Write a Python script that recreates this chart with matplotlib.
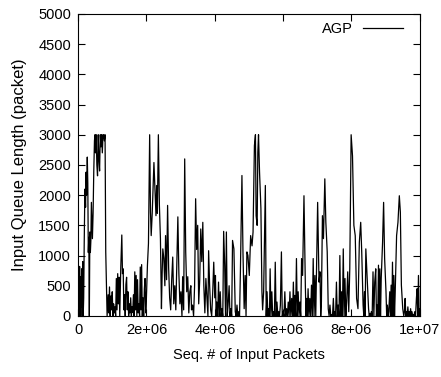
import matplotlib
matplotlib.use('Agg')
import matplotlib.pyplot as plt

plt.rcParams['font.family'] = ['Liberation Sans', 'DejaVu Sans']

# sequence number of input packet (units of 1e5) and queue length (packets)
seq_1 = [0.0, 0.15, 0.3, 0.45, 0.6, 0.75, 0.9, 1.05, 1.2, 1.35, 1.5, 1.65, 1.8,
         2.0, 2.2, 2.35, 2.5, 2.7, 2.85, 3.0, 3.15, 3.3, 3.45, 3.6, 3.75, 3.9,
         4.05, 4.2, 4.4, 4.6, 4.8, 4.95, 5.1, 5.3, 5.5, 5.7, 5.9, 6.1, 6.3, 6.5,
         6.7, 6.9, 7.1, 7.3, 7.5, 7.7, 7.9, 8.1, 8.3, 8.5]
qlen_1 = [0, 500, 80, 820, 0, 650, 150, 780, 0, 900, 0, 300, 1200,
          2100, 1800, 2380, 2000, 2630, 2200, 1050, 1300, 0, 1390, 1050, 1250, 1880,
          1600, 1280, 1700, 2400, 2900, 3000, 2700, 3000, 2500, 2320, 3000, 2600, 2400, 3000,
          2800, 3000, 2700, 3000, 3000, 2900, 3000, 1060, 500, 0]

seq_2 = [8.8, 9.0, 9.2, 9.4, 9.6, 9.8, 10.0, 10.2, 10.4, 10.6, 10.8, 11.0, 11.2,
         11.4, 11.6, 11.8, 12.0, 12.2, 12.5, 12.8, 13.0, 13.2, 13.4, 13.6, 13.8,
         14.0, 14.2, 14.4, 14.6, 14.8, 15.0, 15.2, 15.4, 15.6, 15.8, 16.0, 16.2,
         16.4, 16.6, 16.8, 17.0, 17.2, 17.4, 17.6, 17.8, 18.0, 18.2, 18.4, 18.6,
         18.8, 19.0, 19.2, 19.4, 19.6, 19.8, 20.0, 20.3, 20.6]
qlen_2 = [350, 50, 480, 0, 330, 100, 400, 0, 200, 50, 150, 0, 620,
          100, 700, 200, 640, 0, 800, 1340, 700, 780, 100, 350, 0,
          520, 640, 100, 400, 0, 200, 50, 300, 0, 150, 60, 350,
          0, 730, 100, 670, 0, 600, 50, 200, 0, 810, 100, 850,
          0, 300, 0, 450, 620, 50, 300, 840, 1200]

seq_3 = [20.95, 21.2, 21.4, 21.7, 22.2, 22.5, 22.8, 23.0, 23.2, 23.5, 23.8, 24.1,
         24.4, 24.6, 24.8, 25.1, 25.4, 25.6, 25.9, 26.2, 26.5, 26.8, 27.1, 27.4,
         27.7, 28.0, 28.3, 28.6, 28.9, 29.2, 29.5, 29.8, 30.1, 30.4, 30.6, 30.9,
         31.2, 31.5, 31.8, 32.1, 32.4, 32.7, 33.0, 33.2, 33.5, 33.8, 34.1, 34.4,
         34.7, 35.0, 35.3, 35.6, 35.9, 36.2, 36.5, 36.8, 37.1, 37.4, 37.7, 38.0,
         38.2, 38.5, 38.8, 39.1, 39.4, 39.7, 40.0, 40.2, 40.4, 40.6, 40.85, 41.1,
         41.35, 41.6, 41.85, 42.1, 42.35, 42.6, 42.9, 43.15, 43.4, 43.65, 43.9,
         44.2, 44.45, 44.7, 44.95, 45.2, 45.6, 46.0, 46.25, 46.5, 46.75, 47.0,
         47.25, 47.5, 47.95]
qlen_3 = [3000, 1720, 1330, 1700, 2540, 2100, 1660, 2160, 1700, 3000, 1830, 1280,
          120, 700, 1110, 950, 500, 1330, 600, 1830, 800, 300, 100, 600,
          975, 200, 500, 100, 900, 1640, 700, 200, 400, 0, 650, 100,
          2600, 1060, 400, 650, 50, 400, 500, 100, 180, 0, 500, 1940,
          1100, 1500, 200, 600, 1440, 900, 1550, 500, 50, 620, 300, 0,
          1080, 500, 100, 0, 400, 890, 300, 670, 0, 230, 0, 560,
          0, 400, 0, 120, 0, 1400, 840, 0, 1390, 0, 180,
          500, 0, 120, 0, 1250, 1110, 70, 0, 180, 0, 70,
          0, 730, 2325]

seq_4 = [48.25, 48.6, 48.9, 49.15, 49.4, 49.7, 50.1, 50.5, 50.9, 51.2, 51.6, 51.9,
         52.1, 52.4, 52.6, 52.8, 53.1, 53.5, 53.8, 54.0, 54.3, 54.8, 55.05, 55.3,
         55.55, 55.8, 56.0, 56.2, 56.45, 56.7, 56.95, 57.2, 57.45, 57.7, 57.95,
         58.2, 58.45, 58.7, 58.95, 59.2, 59.5, 59.75, 60.0, 60.25, 60.5, 60.75,
         61.0, 61.25, 61.5, 61.75, 62.0, 62.25, 62.5, 62.75, 63.0, 63.2, 63.4,
         63.65, 63.9, 64.15, 64.4, 64.65, 64.9, 65.15, 65.4, 65.7, 66.1, 66.5,
         66.7, 66.9, 67.1, 67.3, 67.55, 67.8, 68.05, 68.3, 68.55, 68.8, 69.05,
         69.3, 69.55, 69.8, 70.1]
qlen_4 = [1060, 120, 670, 0, 1060, 1000, 670, 1330, 1160, 1390, 2820, 3000,
          1660, 1500, 2710, 3000, 2380, 1780, 400, 100, 400, 2160, 0, 400,
          0, 120, 0, 780, 0, 400, 0, 70, 0, 890, 0,
          230, 0, 70, 0, 180, 1060, 0, 70, 0, 400, 0,
          120, 0, 230, 0, 400, 0, 290, 0, 560, 0, 340,
          0, 950, 0, 400, 0, 230, 0, 950, 670, 1990, 510,
          0, 290, 0, 450, 0, 290, 0, 510, 0, 950, 0,
          670, 0, 890, 1880]

seq_5 = [70.5, 70.8, 71.0, 71.2, 71.5, 71.8, 72.2, 72.5, 72.9, 73.2, 73.45, 73.7,
         73.95, 74.2, 74.45, 74.7, 74.9, 75.1, 75.35, 75.6, 75.85, 76.1, 76.35,
         76.6, 76.85, 77.1, 77.35, 77.6, 77.85, 78.1, 78.35, 78.6, 78.9, 79.2,
         79.5, 79.9, 80.3, 80.7, 81.1, 81.5, 81.9, 82.3, 82.7, 83.0, 83.4, 83.6,
         83.8, 84.0, 84.2, 84.6, 85.0, 85.2, 85.4, 85.6, 85.8, 86.05, 86.3, 86.55,
         86.8, 87.1, 87.3, 87.5, 87.7, 87.9, 88.1, 88.3, 88.5, 88.7, 89.1, 89.4,
         89.7, 90.1, 90.3, 90.5, 90.7, 90.9, 91.2, 91.4, 91.6, 91.8, 92.0, 92.2,
         92.4, 92.6, 92.8, 93.2, 93.6, 94.0, 94.3, 94.6, 95.0, 95.3, 95.5, 95.7,
         95.9, 96.1, 96.3, 96.5, 96.7, 96.9, 97.1, 97.3, 97.5, 97.7, 97.9, 98.1,
         98.3, 98.5, 98.75, 99.0, 99.2, 99.4, 99.6, 99.8, 100.0]
qlen_5 = [560, 730, 0, 230, 1660, 1280, 2270, 1550, 1060, 120, 0, 180,
          0, 20, 0, 290, 0, 70, 0, 560, 0, 180, 0,
          1000, 0, 400, 0, 1110, 0, 620, 0, 230, 730, 70,
          780, 3000, 2650, 1500, 1330, 290, 120, 1220, 1550, 1060, 180, 0,
          400, 0, 1110, 620, 120, 0, 40, 0, 70, 0, 730, 0,
          560, 780, 0, 180, 0, 840, 0, 780, 0, 620, 1220, 1880,
          950, 400, 0, 180, 0, 70, 400, 0, 510, 0, 890, 0,
          670, 0, 400, 1330, 1550, 1990, 1720, 510, 120, 0, 70, 290,
          0, 70, 0, 150, 0, 70, 0, 120, 0, 70, 0, 20,
          0, 70, 0, 290, 450, 0, 670, 0, 120]

xtick_vals = [0, 2e6, 4e6, 6e6, 8e6, 1e7]
xtick_labels = ['0', '2e+06', '4e+06', '6e+06', '8e+06', '1e+07']
ytick_vals = [0, 500, 1000, 1500, 2000, 2500, 3000, 3500, 4000, 4500, 5000]

seq = seq_1 + seq_2 + seq_3 + seq_4 + seq_5
qlen = qlen_1 + qlen_2 + qlen_3 + qlen_4 + qlen_5
seq = [s * 1e5 for s in seq]

fig = plt.figure(figsize=(4.41, 3.77), dpi=100)
ax = fig.add_axes([0.177, 0.162, 0.775, 0.801])

ax.plot(seq, qlen, color='black', lw=0.9, label='AGP')

ax.set_xlim(0, 1e7)
ax.set_ylim(0, 5000)
ax.set_xticks(xtick_vals)
ax.set_xticklabels(xtick_labels)
ax.set_yticks(ytick_vals)
ax.tick_params(direction='in', top=True, right=True, length=5, width=0.8,
               labelsize=10.5, pad=5)
for sp in ax.spines.values():
    sp.set_linewidth(0.8)

ax.set_xlabel('Seq. # of Input Packets', fontsize=10.5, labelpad=8)
ax.set_ylabel('Input Queue Length (packet)', fontsize=12, labelpad=8)

ax.legend(loc='upper right', bbox_to_anchor=(0.968, 0.993), frameon=False,
          fontsize=10.5, handlelength=2.75, markerfirst=False,
          borderaxespad=0, borderpad=0.4, handletextpad=0.7)

fig.savefig('out.png', dpi=100)
